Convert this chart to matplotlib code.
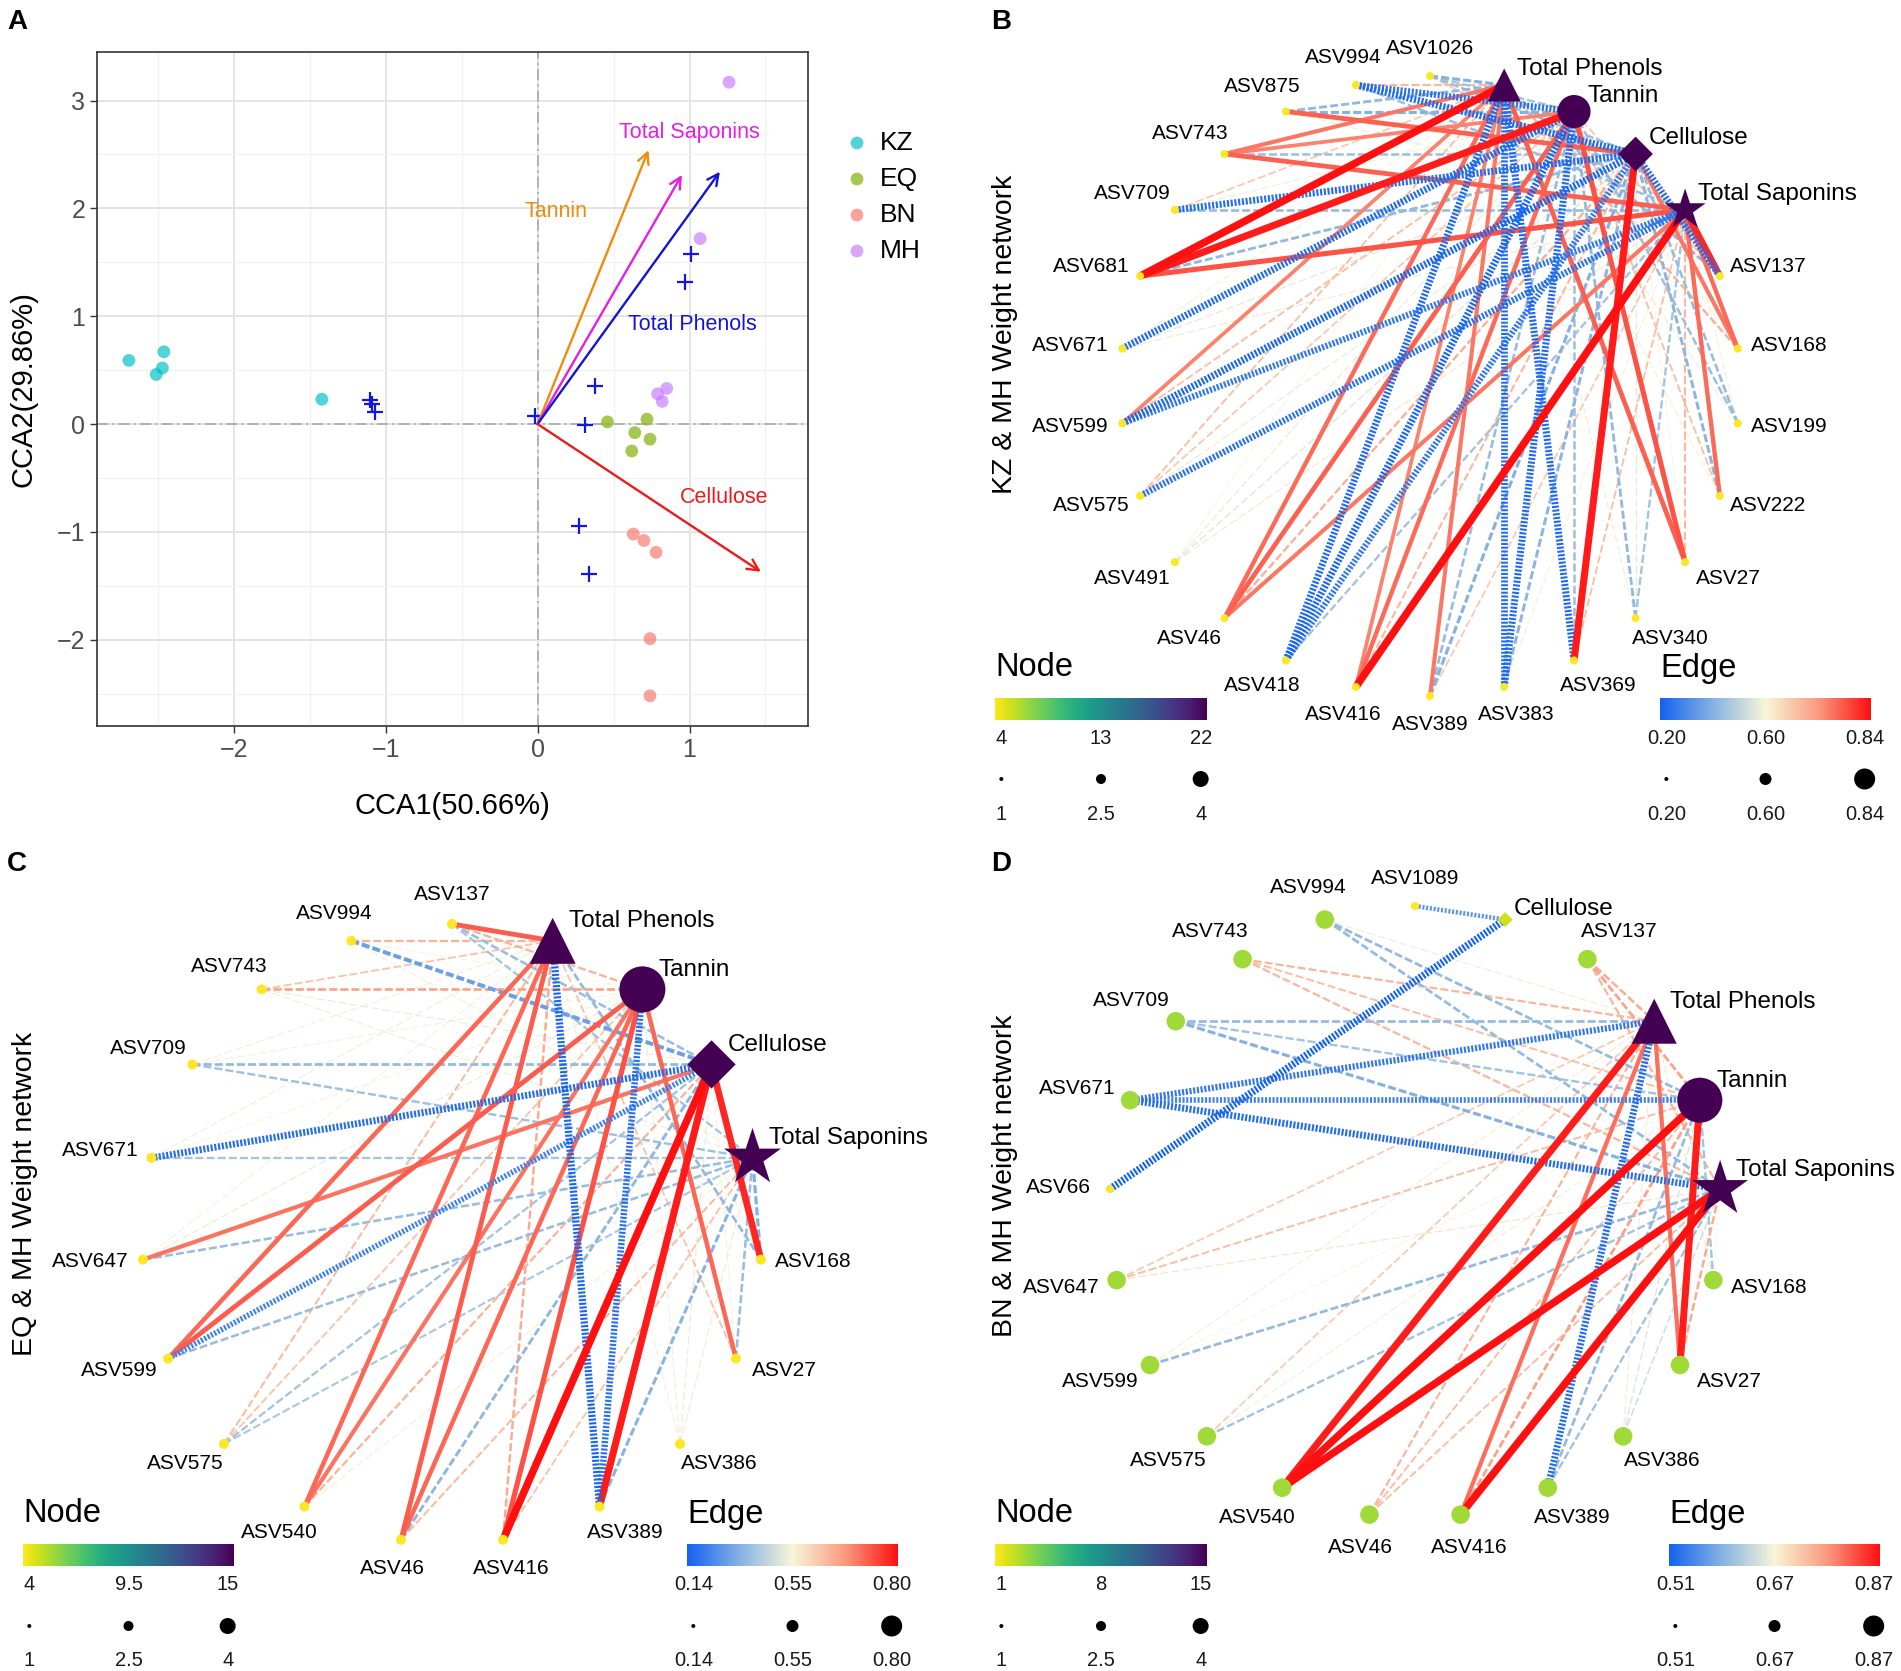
import numpy as np
import matplotlib
matplotlib.use('Agg')
import matplotlib.pyplot as plt
from matplotlib.colors import LinearSegmentedColormap
from matplotlib.ticker import MultipleLocator, FixedLocator

plt.rcParams['font.family'] = ['Liberation Sans', 'DejaVu Sans']
plt.rcParams['lines.scale_dashes'] = False

# ---------------- Panel A data ----------------
group_names = ['KZ', 'EQ', 'BN', 'MH']
group_colors = ['#00BFC4', '#7CAE00', '#F8766D', '#C77CFF']
kz_x = [-2.69, -2.46, -2.47, -2.51, -1.42]
kz_y = [0.59, 0.67, 0.52, 0.46, 0.23]
eq_x = [0.46, 0.72, 0.64, 0.74, 0.62]
eq_y = [0.02, 0.045, -0.08, -0.14, -0.25]
bn_x = [0.63, 0.70, 0.78, 0.74, 0.74]
bn_y = [-1.02, -1.08, -1.19, -1.99, -2.52]
mh_x = [1.26, 1.07, 0.79, 0.85, 0.82]
mh_y = [3.17, 1.72, 0.28, 0.33, 0.21]
asv_x = [-1.10, -1.09, -1.07, -0.02, 0.38, 0.31, 0.27, 0.34, 1.01, 0.97]
asv_y = [0.22, 0.19, 0.11, 0.07, 0.35, -0.01, -0.95, -1.39, 1.58, 1.32]
env_names = ['Tannin', 'Total Saponins', 'Total Phenols', 'Cellulose']
env_colors = ['#F28A0C', '#E51FE0', '#1414D4', '#EE1A1A']
env_x = [0.73, 0.95, 1.20, 1.47]
env_y = [2.54, 2.31, 2.34, -1.37]
a_xticks = [-2, -1, 0, 1]
a_yticks = [-2, -1, 0, 1, 2, 3]

# ---------------- Network data ----------------
factors = ['Total Phenols', 'Tannin', 'Cellulose', 'Total Saponins']
nan = float('nan')

b_asv = ['ASV1026', 'ASV994', 'ASV875', 'ASV743', 'ASV709', 'ASV681', 'ASV671', 'ASV599',
         'ASV575', 'ASV491', 'ASV46', 'ASV418', 'ASV416', 'ASV389', 'ASV383', 'ASV369',
         'ASV340', 'ASV27', 'ASV222', 'ASV199', 'ASV168', 'ASV137']
b_tp = [.40, .68, .42, .75, .66, .84, .59, .74, .67, .60, .76, .22, .74, .75, .23, .22, .58, .77, .61, .58, .69, .42]
b_tan = [.45, .24, .40, .74, .58, .83, .22, .67, .66, .57, .77, .21, .76, .43, .22, .44, .42, .78, .67, .44, .60, .66]
b_cel = [.44, .22, .77, .44, .23, .42, .56, .21, .57, .55, .69, .25, .68, .40, .41, .83, .56, .60, .41, .43, .75, .23]
b_ts = [.66, .44, .58, .77, .43, .78, .62, .25, .24, .62, .75, .45, .84, .66, .59, .67, .45, .68, .76, .61, .76, .82]
b_order = b_asv + ['Total Saponins', 'Cellulose', 'Tannin', 'Total Phenols']
b_node_ticks = ['4', '13', '22']
b_edge_ticks = ['0.20', '0.60', '0.84']

c_asv = ['ASV137', 'ASV994', 'ASV743', 'ASV709', 'ASV671', 'ASV647', 'ASV599', 'ASV575',
         'ASV540', 'ASV46', 'ASV416', 'ASV389', 'ASV386', 'ASV27', 'ASV168']
c_tp = [.73, .64, .62, .56, .53, .54, .72, .63, .72, .73, .65, .15, .56, .62, .37]
c_tan = [.64, .55, .66, .54, .55, .52, .73, .62, .71, .72, .74, .18, .53, .72, .55]
c_cel = [.38, .30, .52, .37, .17, .71, .22, .40, .64, .36, .80, .79, .52, .54, .78]
c_ts = [.40, .54, .53, .39, .40, .38, .38, .41, .56, .63, .62, .35, .57, .38, .34]
c_order = c_asv + ['Total Saponins', 'Cellulose', 'Tannin', 'Total Phenols']
c_node_ticks = ['4', '9.5', '15']
c_edge_ticks = ['0.14', '0.55', '0.80']

d_asv = ['ASV1089', 'ASV994', 'ASV743', 'ASV709', 'ASV671', 'ASV66', 'ASV647', 'ASV599',
         'ASV575', 'ASV540', 'ASV46', 'ASV416', 'ASV389', 'ASV386', 'ASV27', 'ASV168', 'ASV137']
d_tp = [nan, .66, .74, .60, .53, nan, .72, .68, .72, .86, .74, .80, .52, .66, .80, .66, .75]
d_tan = [nan, .60, .73, .61, .54, nan, .73, .67, .68, .87, .73, .76, .60, .65, .86, .61, .76]
d_cel = [.56, nan, nan, nan, nan, .51, nan, nan, nan, nan, nan, nan, nan, nan, nan, nan, nan]
d_ts = [nan, .60, .74, .59, .52, nan, .69, .60, .61, .87, .73, .87, .61, .64, .75, .67, .74]
d_order = d_asv[:16] + ['Total Saponins', 'Tannin', 'Total Phenols', 'ASV137', 'Cellulose']
d_node_ticks = ['1', '8', '15']
d_edge_ticks = ['0.51', '0.67', '0.87']

size_ticks = ['1', '2.5', '4']

# ---------------- Figure ----------------
W, H = 1901, 1671
fig = plt.figure(figsize=(W / 100, H / 100), dpi=100)

# Panel A
ax = fig.add_axes([97 / W, 1 - 726 / H, (808 - 97) / W, (726 - 52) / H])
ax.set_xlim(-2.90, 1.78)
ax.set_ylim(-2.80, 3.45)
ax.xaxis.set_major_locator(FixedLocator(a_xticks))
ax.yaxis.set_major_locator(FixedLocator(a_yticks))
ax.xaxis.set_minor_locator(MultipleLocator(0.5))
ax.yaxis.set_minor_locator(MultipleLocator(0.5))
ax.grid(which='major', color='#e4e4e4', lw=1.4)
ax.grid(which='minor', color='#f0f0f0', lw=0.8)
ax.set_axisbelow(True)
ax.tick_params(which='minor', length=0)
ax.tick_params(which='major', labelsize=18, labelcolor='#4d4d4d', length=5, color='#333333', width=1)
for s in ax.spines.values():
    s.set_color('#333333')
    s.set_linewidth(1.2)
ax.axhline(0, color='#a8a8a8', lw=1.2, ls=(0, (8, 3, 1.5, 3)), zorder=1)
ax.axvline(0, color='#a8a8a8', lw=1.2, ls=(0, (8, 3, 1.5, 3)), zorder=1)
for gx, gy, col in zip([kz_x, eq_x, bn_x, mh_x], [kz_y, eq_y, bn_y, mh_y], group_colors):
    ax.scatter(gx, gy, s=85, color=col, alpha=0.68, edgecolors='none', zorder=3)
ax.scatter(asv_x, asv_y, marker='+', s=130, color='#1414e6', linewidths=1.6, zorder=4)
label_pos = [(0.12, 1.97), (1.0, 2.70), (1.02, 0.92), (1.23, -0.68)]
for nm, col, ex, ey, lp in zip(env_names, env_colors, env_x, env_y, label_pos):
    ax.annotate('', xy=(ex, ey), xytext=(0, 0),
                arrowprops=dict(arrowstyle='->', color=col, lw=1.7, mutation_scale=20,
                                shrinkA=0, shrinkB=0), zorder=5)
    ax.text(lp[0], lp[1], nm, color=col, fontsize=15.5, ha='center', va='center', zorder=6)
ax.set_xlabel('CCA1(50.66%)', fontsize=21, labelpad=22)
ax.set_ylabel('CCA2(29.86%)', fontsize=21, labelpad=14)

# Overlay axes in pixel coordinates
ov = fig.add_axes([0, 0, 1, 1])
ov.axis('off')

for nm, col, yy in zip(group_names, group_colors, [143, 179, 215, 251]):
    ov.scatter([857], [yy], s=85, color=col, alpha=0.68, edgecolors='none')
    ov.text(880, yy, nm, fontsize=19, ha='left', va='center')

for letter, (lx, ly) in zip(['A', 'B', 'C', 'D'], [(17, 22), (1001, 22), (17, 864), (1001, 864)]):
    ov.text(lx, ly, letter, fontsize=20, fontweight='bold', ha='center', va='center')

edge_cmap = LinearSegmentedColormap.from_list(
    'edge', ['#1462f0', '#86b2e2', '#f8f6d8', '#fa9a80', '#ff1010'])
node_cmap = plt.get_cmap('viridis_r')
shapes = {'Total Phenols': '^', 'Tannin': 'o', 'Cellulose': 'D', 'Total Saponins': '*'}
shape_scale = {'^': 1.0, 'o': 1.0, 'D': 0.55, '*': 1.7}


def px2pt(p):
    return p * 0.72


def draw_network(order, asvs, cols, node_ticks, edge_ticks, cx, cy, rad, dmin, dmax,
                 ylab, ylab_pos, leg):
    n = len(order)
    pos, ang = {}, {}
    for i, name in enumerate(order):
        th = np.deg2rad(90 + i * 360.0 / n)
        pos[name] = (cx + rad * np.cos(th), cy - rad * np.sin(th))
        ang[name] = th
    vmin, vmid, vmax = [float(t) for t in edge_ticks]
    edges = []
    for f, col in zip(factors, cols):
        for a, w in zip(asvs, col):
            if not np.isnan(w):
                edges.append((a, f, w))
    deg = {name: 0 for name in order}
    for a, f, w in edges:
        deg[a] += 1
        deg[f] += 1
    info = []
    for a, f, w in edges:
        if w >= vmid:
            u = (w - vmid) / (vmax - vmid)
        else:
            u = (w - vmid) / (vmid - vmin)
        u = float(np.clip(u, -1, 1))
        info.append((abs(u), u, a, f))
    info.sort()
    for au, u, a, f in info:
        t = 0.5 + 0.5 * u
        wpx = 1.0 + 6.5 * au ** 1.6
        if u <= -0.65:
            ls = (0, (1.5, 1.2))
        elif u >= 0.5:
            ls = '-'
        else:
            ls = (0, (5.8, 2.2))
        (x1, y1), (x2, y2) = pos[a], pos[f]
        ov.plot([x1, x2], [y1, y2], color=edge_cmap(t), lw=px2pt(wpx), ls=ls,
                solid_capstyle='butt', dash_capstyle='butt', zorder=2 + au)
    nmin, nmax = float(node_ticks[0]), float(node_ticks[-1])
    for name in order:
        d = deg[name]
        fr = (d - nmin) / (nmax - nmin)
        diam = np.sqrt(dmin ** 2 + fr * (dmax ** 2 - dmin ** 2))
        mk = shapes[name] if name in factors else 'o'
        s = px2pt(diam) ** 2 * shape_scale[mk]
        x, y = pos[name]
        ov.scatter([x], [y], s=s, marker=mk, color=node_cmap(np.clip(fr, 0, 1)),
                   edgecolors='none', zorder=10)
        r_node = diam / 2
        th = ang[name]
        if name in factors:
            ov.text(x + 0.5 * r_node + 5, y - 0.6 * r_node - 6, name, fontsize=17.5,
                    ha='left', va='center', zorder=11)
        else:
            ov.text(x + (48 + r_node) * np.cos(th), y - (24 + r_node) * np.sin(th), name,
                    fontsize=15, ha='center', va='center', zorder=11)
    ov.text(ylab_pos[0], ylab_pos[1], ylab, fontsize=20.5, rotation=90, ha='center', va='center')

    # legends
    nx0, nx1, ex0, ex1, ty, by0, by1, tky, dty, sly = leg
    grad = np.linspace(0, 1, 256).reshape(1, -1)
    for (x0, x1, cmap, ticks, title, dots) in [
            (nx0, nx1, node_cmap, node_ticks, 'Node', (4, 10, 16)),
            (ex0, ex1, edge_cmap, edge_ticks, 'Edge', (4, 12, 21))]:
        ov.text(x0, ty, title, fontsize=23.5, ha='left', va='center')
        ov.imshow(grad, cmap=cmap, extent=[x0, x1, by1, by0], aspect='auto', zorder=12)
        wdt = x1 - x0
        xs = [x0 + 0.03 * wdt, x0 + 0.5 * wdt, x1 - 0.03 * wdt]
        slabels = size_ticks if title == 'Node' else ticks
        for xx, lab, dd, sl in zip(xs, ticks, dots, slabels):
            ov.text(xx, tky, lab, fontsize=14.5, ha='center', va='center', color='#1a1a1a')
            ov.scatter([xx], [dty], s=px2pt(dd) ** 2, color='black', edgecolors='none')
            ov.text(xx, sly, sl, fontsize=14.5, ha='center', va='center', color='#1a1a1a')


draw_network(b_order, b_asv, [b_tp, b_tan, b_cel, b_ts], b_node_ticks, b_edge_ticks,
             1430, 386, 310, 8, 33, 'KZ & MH Weight network', (1005, 334),
             (995, 1207, 1660, 1871, 668, 698, 720, 739, 779, 815))
draw_network(c_order, c_asv, [c_tp, c_tan, c_cel, c_ts], c_node_ticks, c_edge_ticks,
             452, 1234, 310, 10, 46, 'EQ & MH Weight network', (25, 1194),
             (23, 234, 687, 898, 1514, 1544, 1566, 1585, 1626, 1660))
draw_network(d_order, d_asv, [d_tp, d_tan, d_cel, d_ts], d_node_ticks, d_edge_ticks,
             1415, 1212, 306, 8, 45, 'BN & MH Weight network', (1005, 1176),
             (995, 1207, 1669, 1880, 1514, 1544, 1566, 1585, 1626, 1660))

ov.set_xlim(0, W)
ov.set_ylim(H, 0)

fig.savefig('out.png', dpi=100)
